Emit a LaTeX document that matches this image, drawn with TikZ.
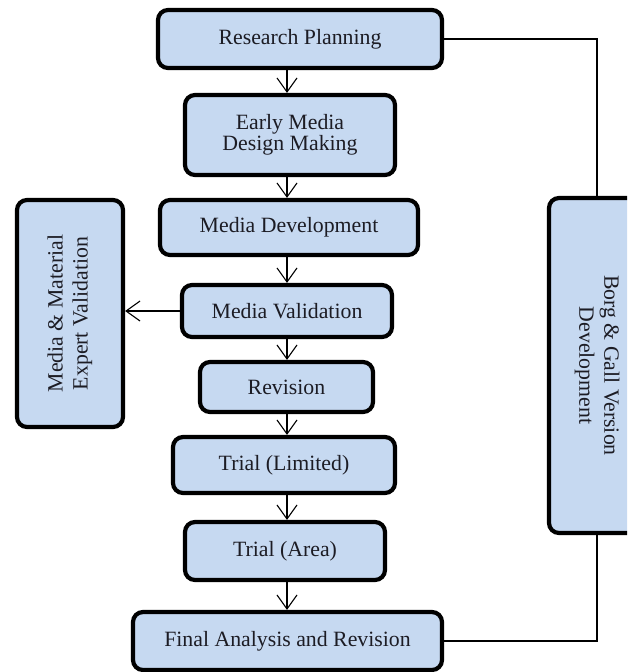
\documentclass[tikz,border=0pt]{standalone}
\usepackage{fontspec}
\setmainfont{Liberation Serif}
\usetikzlibrary{arrows.meta,positioning}
\definecolor{stagefill}{HTML}{C6D9F1}
\definecolor{ink}{HTML}{1C1C24}
\tikzset{
  % ---- stage boxes -----------------------------------------------
  stage/.style   = {rectangle, rounded corners=10pt, draw=black,
                    line width=4.2pt, fill=stagefill, text=ink,
                    align=center, inner sep=0pt,
                    font=\fontsize{21.8}{21}\selectfont},
  sidebox/.style = {stage, font=\fontsize{21.8}{25}\selectfont},
  % ---- connectors ------------------------------------------------
  flow/.style    = {draw=black, line width=1.1pt,
                    -{Straight Barb[length=14pt,width=20pt,line width=1.1pt]}},
  link/.style    = {draw=black, line width=1.1pt},
}
\begin{document}
\begin{tikzpicture}[x=1pt,y=-1pt]
  \useasboundingbox (0,0) rectangle (627,672);
  \clip (0,0) rectangle (627,672);
  \coordinate (axis) at (287,0);
  % main column
  \node[stage, minimum width=284pt, minimum height=58pt] (plan) at (300,39) {Research Planning};
  \node[stage, minimum width=210pt, minimum height=80pt] (early) at (290,135) {Early Media\\Design Making};
  \node[stage, minimum width=258pt, minimum height=55pt] (dev) at (289,227.5) {Media Development};
  \node[stage, minimum width=210pt, minimum height=52pt] (valid) at (287,311) {Media Validation};
  \node[stage, minimum width=173pt, minimum height=50pt] (revis) at (286.5,387) {Revision};
  \node[stage, minimum width=222pt, minimum height=56pt] (triallim) at (284,465) {Trial (Limited)};
  \node[stage, minimum width=200pt, minimum height=58pt] (trialarea) at (285,551) {Trial (Area)};
  \node[stage, minimum width=309pt, minimum height=58pt] (final) at (287.5,641) {Final Analysis and Revision};
  % side boxes
  \node[sidebox, rotate=90, minimum width=227pt, minimum height=106pt] (expert) at (70,313.5) {Media \& Material\\Expert Validation};
  \node[sidebox, rotate=-90, minimum width=335pt, minimum height=96pt] (borg) at (597,365.5) {Borg \& Gall Version\\Development};
  % arrows
  \foreach \a/\b in {plan/early,early/dev,dev/valid,valid/revis,revis/triallim,triallim/trialarea,trialarea/final}
    \draw[flow] (\a.south -| axis) -- (\b.north -| axis);
  \draw[flow] (valid.west) -- (valid.west -| expert.south);
  \draw[link] (plan.east) -| (borg.west);
  \draw[link] (borg.east) |- (final.east);
\end{tikzpicture}
\end{document}
